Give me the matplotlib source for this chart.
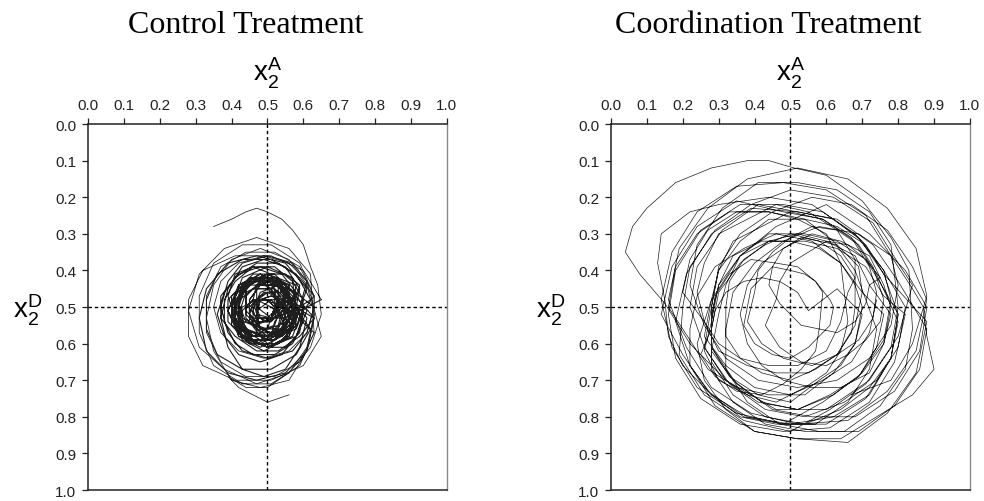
import matplotlib
matplotlib.use('Agg')
from matplotlib import pyplot as plt

plt.rcParams['font.family'] = 'Liberation Sans'
plt.rcParams['mathtext.fontset'] = 'custom'
plt.rcParams['mathtext.rm'] = 'Liberation Sans'

titles = ['Control Treatment', 'Coordination Treatment']
tick_vals = [0.0, 0.1, 0.2, 0.3, 0.4, 0.5, 0.6, 0.7, 0.8, 0.9, 1.0]
tick_labels = ['0.0', '0.1', '0.2', '0.3', '0.4', '0.5', '0.6', '0.7', '0.8', '0.9', '1.0']

# control treatment path (x2^A, x2^D), in three parts
ctrl_start_x = [
    0.35, 0.40, 0.44, 0.47, 0.50, 0.54, 0.57, 0.60, 0.62, 0.64,
    0.65, 0.62, 0.56, 0.47, 0.38, 0.31, 0.28, 0.31, 0.38, 0.47, 0.56, 0.62,
    0.63, 0.59, 0.52, 0.44, 0.37, 0.33, 0.33, 0.37, 0.44, 0.52, 0.59, 0.63,
    0.63, 0.61, 0.56, 0.49, 0.42, 0.37, 0.35, 0.37, 0.42, 0.49, 0.56, 0.61,
    0.65, 0.60, 0.51, 0.41, 0.32, 0.28, 0.28, 0.32, 0.41, 0.51, 0.60, 0.65,
]
ctrl_start_y = [
    0.28, 0.26, 0.24, 0.23, 0.24, 0.26, 0.29, 0.33, 0.39, 0.44,
    0.52, 0.61, 0.68, 0.71, 0.67, 0.61, 0.51, 0.41, 0.34, 0.31, 0.34, 0.41,
    0.57, 0.65, 0.69, 0.69, 0.65, 0.57, 0.47, 0.39, 0.35, 0.35, 0.39, 0.47,
    0.50, 0.57, 0.62, 0.64, 0.62, 0.57, 0.50, 0.43, 0.38, 0.36, 0.38, 0.43,
    0.58, 0.66, 0.70, 0.70, 0.66, 0.58, 0.48, 0.40, 0.36, 0.36, 0.40, 0.48,
]
ctrl_core_x = [
    0.59, 0.56, 0.50, 0.44, 0.41, 0.44, 0.50, 0.56,
    0.56, 0.52, 0.46, 0.42, 0.42, 0.46, 0.52, 0.56,
    0.53, 0.51, 0.46, 0.41, 0.39, 0.41, 0.46, 0.51,
    0.53, 0.52, 0.50, 0.48, 0.47, 0.48, 0.50, 0.52,
    0.57, 0.52, 0.46, 0.41, 0.41, 0.46, 0.52, 0.57,
    0.56, 0.54, 0.48, 0.42, 0.40, 0.42, 0.48, 0.54,
    0.60, 0.57, 0.52, 0.46, 0.41, 0.38, 0.38, 0.41, 0.46, 0.52, 0.57, 0.60,
    0.59, 0.55, 0.51, 0.47, 0.47, 0.51, 0.55, 0.59,
    0.58, 0.56, 0.50, 0.44, 0.42, 0.44, 0.50, 0.56,
    0.58, 0.53, 0.45, 0.40, 0.40, 0.45, 0.53, 0.58,
    0.55, 0.54, 0.51, 0.48, 0.47, 0.48, 0.51, 0.54,
    0.55, 0.51, 0.45, 0.41, 0.41, 0.45, 0.51, 0.55,
    0.53, 0.51, 0.47, 0.45, 0.45, 0.47, 0.51, 0.53,
    0.60, 0.58, 0.54, 0.48, 0.42, 0.38, 0.36, 0.38, 0.42, 0.48, 0.54, 0.58,
    0.52, 0.51, 0.47, 0.43, 0.42, 0.43, 0.47, 0.51,
    0.57, 0.52, 0.46, 0.41, 0.41, 0.46, 0.52, 0.57,
    0.60, 0.57, 0.50, 0.43, 0.40, 0.43, 0.50, 0.57,
    0.58, 0.54, 0.48, 0.45, 0.45, 0.48, 0.54, 0.58,
    0.57, 0.55, 0.49, 0.43, 0.41, 0.43, 0.49, 0.55,
    0.63, 0.61, 0.57, 0.50, 0.43, 0.39, 0.37, 0.39, 0.43, 0.50, 0.57, 0.61,
    0.59, 0.55, 0.51, 0.47, 0.47, 0.51, 0.55, 0.59,
    0.57, 0.54, 0.48, 0.42, 0.39, 0.42, 0.48, 0.54,
    0.52, 0.50, 0.46, 0.44, 0.44, 0.46, 0.50, 0.52,
    0.52, 0.50, 0.46, 0.42, 0.40, 0.42, 0.46, 0.50,
    0.57, 0.52, 0.46, 0.41, 0.41, 0.46, 0.52, 0.57,
    0.63, 0.59, 0.53, 0.47, 0.41, 0.37, 0.37, 0.41, 0.47, 0.53, 0.59, 0.63,
    0.60, 0.58, 0.53, 0.48, 0.46, 0.48, 0.53, 0.58,
    0.57, 0.52, 0.44, 0.39, 0.39, 0.44, 0.52, 0.57,
    0.61, 0.59, 0.55, 0.49, 0.43, 0.39, 0.37, 0.39, 0.43, 0.49, 0.55, 0.59,
    0.58, 0.56, 0.50, 0.44, 0.42, 0.44, 0.50, 0.56,
    0.54, 0.51, 0.47, 0.44, 0.44, 0.47, 0.51, 0.54,
    0.58, 0.55, 0.49, 0.43, 0.40, 0.43, 0.49, 0.55,
    0.55, 0.54, 0.51, 0.48, 0.47, 0.48, 0.51, 0.54,
    0.63, 0.61, 0.55, 0.47, 0.39, 0.33, 0.31, 0.33, 0.39, 0.47, 0.55, 0.61,
    0.58, 0.54, 0.48, 0.44, 0.44, 0.48, 0.54, 0.58,
    0.61, 0.58, 0.50, 0.42, 0.39, 0.42, 0.50, 0.58,
    0.56, 0.52, 0.46, 0.42, 0.42, 0.46, 0.52, 0.56,
    0.62, 0.58, 0.51, 0.43, 0.36, 0.33, 0.33, 0.36, 0.43, 0.51, 0.58, 0.62,
    0.59, 0.56, 0.50, 0.44, 0.41, 0.44, 0.50, 0.56,
    0.52, 0.50, 0.46, 0.44, 0.44, 0.46, 0.50, 0.52,
    0.55, 0.51, 0.45, 0.41, 0.41, 0.45, 0.51, 0.55,
    0.53, 0.51, 0.47, 0.43, 0.41, 0.43, 0.47, 0.51,
    0.58, 0.54, 0.50, 0.46, 0.46, 0.50, 0.54, 0.58,
    0.58, 0.56, 0.50, 0.44, 0.42, 0.44, 0.50, 0.56,
    0.53, 0.50, 0.46, 0.43, 0.43, 0.46, 0.50, 0.53,
    0.56, 0.55, 0.51, 0.47, 0.46, 0.47, 0.51, 0.55,
    0.58, 0.53, 0.47, 0.42, 0.42, 0.47, 0.53, 0.58,
    0.53, 0.52, 0.49, 0.46, 0.45, 0.46, 0.49, 0.52,
    0.57, 0.54, 0.48, 0.45, 0.45, 0.48, 0.54, 0.57,
    0.55, 0.53, 0.48, 0.43, 0.41, 0.43, 0.48, 0.53,
    0.53, 0.51, 0.49, 0.47, 0.47, 0.49, 0.51, 0.53,
]
ctrl_core_y = [
    0.51, 0.58, 0.61, 0.58, 0.51, 0.44, 0.41, 0.44,
    0.53, 0.58, 0.58, 0.53, 0.47, 0.42, 0.42, 0.47,
    0.47, 0.53, 0.55, 0.53, 0.47, 0.41, 0.39, 0.41,
    0.50, 0.53, 0.54, 0.53, 0.50, 0.47, 0.46, 0.47,
    0.54, 0.59, 0.59, 0.54, 0.48, 0.43, 0.43, 0.48,
    0.51, 0.58, 0.61, 0.58, 0.51, 0.44, 0.41, 0.44,
    0.54, 0.60, 0.63, 0.63, 0.60, 0.54, 0.48, 0.43, 0.39, 0.39, 0.43, 0.48,
    0.57, 0.61, 0.61, 0.57, 0.51, 0.48, 0.48, 0.51,
    0.52, 0.58, 0.61, 0.58, 0.52, 0.46, 0.43, 0.46,
    0.55, 0.60, 0.60, 0.55, 0.47, 0.42, 0.42, 0.47,
    0.52, 0.56, 0.57, 0.56, 0.52, 0.48, 0.47, 0.48,
    0.53, 0.58, 0.58, 0.53, 0.47, 0.42, 0.42, 0.47,
    0.52, 0.54, 0.54, 0.52, 0.50, 0.48, 0.48, 0.50,
    0.52, 0.58, 0.63, 0.65, 0.63, 0.58, 0.52, 0.46, 0.41, 0.39, 0.41, 0.46,
    0.54, 0.58, 0.60, 0.58, 0.54, 0.50, 0.48, 0.50,
    0.55, 0.59, 0.59, 0.55, 0.49, 0.45, 0.45, 0.49,
    0.50, 0.58, 0.61, 0.58, 0.50, 0.42, 0.39, 0.42,
    0.54, 0.58, 0.58, 0.54, 0.48, 0.44, 0.44, 0.48,
    0.50, 0.56, 0.58, 0.56, 0.50, 0.44, 0.42, 0.44,
    0.50, 0.57, 0.62, 0.64, 0.62, 0.57, 0.50, 0.43, 0.38, 0.36, 0.38, 0.43,
    0.50, 0.53, 0.53, 0.50, 0.44, 0.41, 0.41, 0.44,
    0.51, 0.57, 0.60, 0.57, 0.51, 0.45, 0.42, 0.45,
    0.51, 0.53, 0.53, 0.51, 0.47, 0.45, 0.45, 0.47,
    0.50, 0.56, 0.58, 0.56, 0.50, 0.44, 0.42, 0.44,
    0.54, 0.59, 0.59, 0.54, 0.46, 0.41, 0.41, 0.46,
    0.53, 0.58, 0.62, 0.62, 0.58, 0.53, 0.47, 0.42, 0.38, 0.38, 0.42, 0.47,
    0.51, 0.56, 0.58, 0.56, 0.51, 0.46, 0.44, 0.46,
    0.54, 0.59, 0.59, 0.54, 0.48, 0.43, 0.43, 0.48,
    0.53, 0.61, 0.67, 0.69, 0.67, 0.61, 0.53, 0.45, 0.39, 0.37, 0.39, 0.45,
    0.50, 0.56, 0.59, 0.56, 0.50, 0.44, 0.41, 0.44,
    0.49, 0.53, 0.53, 0.49, 0.45, 0.42, 0.42, 0.45,
    0.52, 0.59, 0.62, 0.59, 0.52, 0.45, 0.42, 0.45,
    0.52, 0.56, 0.57, 0.56, 0.52, 0.48, 0.47, 0.48,
    0.53, 0.62, 0.68, 0.70, 0.68, 0.62, 0.53, 0.45, 0.38, 0.36, 0.38, 0.45,
    0.53, 0.57, 0.57, 0.53, 0.47, 0.43, 0.43, 0.47,
    0.51, 0.58, 0.61, 0.58, 0.51, 0.44, 0.41, 0.44,
    0.54, 0.59, 0.59, 0.54, 0.48, 0.43, 0.43, 0.48,
    0.56, 0.63, 0.67, 0.67, 0.63, 0.56, 0.48, 0.41, 0.37, 0.37, 0.41, 0.48,
    0.50, 0.56, 0.58, 0.56, 0.50, 0.44, 0.42, 0.44,
    0.52, 0.54, 0.54, 0.52, 0.50, 0.48, 0.48, 0.50,
    0.55, 0.60, 0.60, 0.55, 0.49, 0.44, 0.44, 0.49,
    0.49, 0.53, 0.55, 0.53, 0.49, 0.45, 0.43, 0.45,
    0.55, 0.58, 0.58, 0.55, 0.49, 0.46, 0.46, 0.49,
    0.49, 0.54, 0.56, 0.54, 0.49, 0.44, 0.42, 0.44,
    0.55, 0.58, 0.58, 0.55, 0.51, 0.48, 0.48, 0.51,
    0.48, 0.52, 0.53, 0.52, 0.48, 0.44, 0.43, 0.44,
    0.55, 0.60, 0.60, 0.55, 0.47, 0.42, 0.42, 0.47,
    0.52, 0.55, 0.56, 0.55, 0.52, 0.49, 0.48, 0.49,
    0.52, 0.56, 0.56, 0.52, 0.48, 0.44, 0.44, 0.48,
    0.50, 0.56, 0.59, 0.56, 0.50, 0.44, 0.41, 0.44,
    0.52, 0.54, 0.54, 0.52, 0.48, 0.46, 0.46, 0.48,
]
ctrl_end_x = [
    0.63, 0.59, 0.51, 0.43, 0.35, 0.31, 0.31, 0.35, 0.43, 0.51, 0.59, 0.63,
    0.63, 0.61, 0.56, 0.48, 0.40, 0.35, 0.33, 0.35, 0.40, 0.48, 0.56, 0.61,
    0.63, 0.61, 0.56, 0.50, 0.44, 0.39, 0.42, 0.46, 0.50, 0.53, 0.56,
]
ctrl_end_y = [
    0.57, 0.66, 0.71, 0.71, 0.66, 0.57, 0.47, 0.38, 0.33, 0.33, 0.38, 0.47,
    0.53, 0.62, 0.70, 0.72, 0.70, 0.62, 0.53, 0.44, 0.37, 0.34, 0.37, 0.44,
    0.52, 0.61, 0.68, 0.72, 0.72, 0.69, 0.72, 0.74, 0.76, 0.75, 0.74,
]

# coordination treatment path
coord_x = [
    0.74, 0.72, 0.67, 0.59, 0.50, 0.40, 0.32, 0.26, 0.28, 0.30, 0.34, 0.42, 0.50, 0.59, 0.67, 0.72,
    0.74, 0.73, 0.69, 0.63, 0.56, 0.48, 0.42, 0.38, 0.40, 0.41, 0.45, 0.50, 0.56, 0.63, 0.69, 0.73,
    0.76, 0.75, 0.71, 0.66, 0.60, 0.53, 0.47, 0.43, 0.46, 0.47, 0.50, 0.55, 0.60, 0.66, 0.71, 0.75,
    0.72, 0.71, 0.68, 0.63, 0.58, 0.53, 0.50, 0.47, 0.44, 0.45, 0.48, 0.53, 0.58, 0.63, 0.66, 0.69,
    0.70, 0.68, 0.63, 0.55, 0.46, 0.38, 0.30, 0.26, 0.24, 0.26, 0.30, 0.38, 0.46, 0.55, 0.63, 0.68,
    0.68, 0.67, 0.63, 0.57, 0.50, 0.42, 0.36, 0.32, 0.32, 0.33, 0.37, 0.43, 0.50, 0.58, 0.64, 0.68,
    0.66, 0.64, 0.60, 0.52, 0.44, 0.36, 0.30, 0.26, 0.20, 0.22, 0.27, 0.35, 0.44, 0.52, 0.60, 0.64,
    0.66, 0.64, 0.60, 0.54, 0.46, 0.38, 0.30, 0.26, 0.28, 0.29, 0.33, 0.39, 0.46, 0.52, 0.57, 0.61,
    0.62, 0.61, 0.58, 0.55, 0.50, 0.45, 0.40, 0.37, 0.38, 0.39, 0.42, 0.45, 0.50, 0.54, 0.57, 0.59,
    0.58, 0.57, 0.53, 0.48, 0.42, 0.35, 0.29, 0.25, 0.28, 0.29, 0.32, 0.37, 0.42, 0.47, 0.52, 0.55, 0.63,
    0.70, 0.68, 0.64, 0.58, 0.50, 0.41, 0.33, 0.28, 0.28, 0.30, 0.34, 0.42, 0.50, 0.58, 0.64, 0.68,
    0.70, 0.68, 0.62, 0.54, 0.44, 0.35, 0.27, 0.22, 0.16, 0.18, 0.24, 0.33, 0.44, 0.54, 0.62, 0.68,
    0.74, 0.72, 0.66, 0.57, 0.46, 0.36, 0.28, 0.22, 0.22, 0.24, 0.29, 0.37, 0.46, 0.56, 0.64, 0.70,
    0.76, 0.74, 0.69, 0.61, 0.52, 0.42, 0.34, 0.28, 0.30, 0.32, 0.36, 0.44, 0.52, 0.60, 0.68, 0.72,
    0.78, 0.76, 0.72, 0.64, 0.56, 0.48, 0.42, 0.38, 0.36, 0.38, 0.42, 0.48, 0.56, 0.64, 0.72, 0.76,
    0.78, 0.76, 0.70, 0.62, 0.52, 0.41, 0.32, 0.26, 0.22, 0.24, 0.31, 0.41, 0.52, 0.62, 0.70, 0.76,
    0.82, 0.80, 0.74, 0.65, 0.54, 0.43, 0.33, 0.26, 0.28, 0.30, 0.36, 0.44, 0.54, 0.63, 0.71, 0.76,
    0.80, 0.78, 0.71, 0.60, 0.48, 0.37, 0.27, 0.20, 0.14, 0.17, 0.24, 0.35, 0.48, 0.59, 0.68, 0.74,
    0.80, 0.78, 0.72, 0.64, 0.54, 0.43, 0.34, 0.28, 0.28, 0.30, 0.36, 0.44, 0.54, 0.63, 0.71, 0.76,
    0.80, 0.78, 0.72, 0.62, 0.50, 0.38, 0.28, 0.20, 0.16, 0.15, 0.13, 0.14, 0.22, 0.30, 0.44, 0.56, 0.68, 0.76,
    0.78, 0.76, 0.69, 0.59, 0.48, 0.35, 0.24, 0.17, 0.14, 0.17, 0.24, 0.35, 0.48, 0.60, 0.71, 0.78,
    0.80, 0.78, 0.72, 0.63, 0.52, 0.41, 0.32, 0.26, 0.22, 0.24, 0.31, 0.41, 0.52, 0.63, 0.72, 0.78,
    0.80, 0.78, 0.71, 0.61, 0.50, 0.37, 0.26, 0.19, 0.20, 0.22, 0.29, 0.39, 0.50, 0.62, 0.73, 0.80,
    0.84, 0.80, 0.72, 0.60, 0.46, 0.32, 0.22, 0.15, 0.08, 0.04, 0.06, 0.10, 0.18, 0.28, 0.38, 0.44, 0.51, 0.60, 0.70, 0.78, 0.83,
    0.84, 0.82, 0.75, 0.65, 0.54, 0.43, 0.34, 0.28, 0.28, 0.30, 0.36, 0.44, 0.54, 0.63, 0.71, 0.76,
    0.82, 0.79, 0.72, 0.61, 0.48, 0.36, 0.25, 0.18, 0.16, 0.18, 0.25, 0.36, 0.48, 0.59, 0.69, 0.76,
    0.88, 0.85, 0.77, 0.66, 0.52, 0.40, 0.29, 0.22, 0.18, 0.21, 0.28, 0.39, 0.52, 0.63, 0.73, 0.80,
    0.88, 0.86, 0.79, 0.69, 0.58, 0.47, 0.38, 0.32, 0.32, 0.34, 0.40, 0.48, 0.58, 0.69, 0.78, 0.84,
    0.87, 0.88, 0.90, 0.84, 0.74, 0.64, 0.52, 0.40, 0.32, 0.26, 0.24, 0.28, 0.36, 0.46, 0.60, 0.72, 0.82,
    0.88, 0.86, 0.79, 0.68, 0.56, 0.45, 0.35, 0.28, 0.28, 0.30, 0.36, 0.45, 0.56, 0.67, 0.77, 0.84,
    0.88, 0.85, 0.77, 0.66, 0.52, 0.39, 0.28, 0.21, 0.16, 0.19, 0.27, 0.38, 0.52, 0.66, 0.77, 0.85,
    0.88, 0.84, 0.78, 0.67,
]
coord_y = [
    0.48, 0.57, 0.65, 0.70, 0.74, 0.72, 0.66, 0.58, 0.48, 0.40, 0.32, 0.28, 0.24, 0.26, 0.31, 0.39,
    0.46, 0.53, 0.59, 0.63, 0.66, 0.64, 0.60, 0.54, 0.46, 0.40, 0.35, 0.31, 0.28, 0.29, 0.33, 0.39,
    0.48, 0.54, 0.59, 0.63, 0.66, 0.65, 0.61, 0.55, 0.48, 0.43, 0.38, 0.35, 0.32, 0.33, 0.37, 0.42,
    0.44, 0.49, 0.54, 0.57, 0.56, 0.55, 0.52, 0.49, 0.44, 0.39, 0.34, 0.31, 0.32, 0.33, 0.36, 0.39,
    0.46, 0.55, 0.63, 0.68, 0.68, 0.66, 0.62, 0.54, 0.46, 0.38, 0.30, 0.26, 0.22, 0.24, 0.29, 0.37,
    0.50, 0.57, 0.63, 0.67, 0.70, 0.68, 0.64, 0.58, 0.50, 0.43, 0.37, 0.33, 0.30, 0.32, 0.36, 0.42,
    0.46, 0.54, 0.62, 0.66, 0.66, 0.64, 0.60, 0.54, 0.46, 0.37, 0.29, 0.24, 0.24, 0.26, 0.30, 0.38,
    0.54, 0.62, 0.68, 0.72, 0.76, 0.74, 0.70, 0.62, 0.54, 0.47, 0.41, 0.37, 0.38, 0.39, 0.43, 0.48,
    0.50, 0.55, 0.58, 0.61, 0.64, 0.63, 0.60, 0.55, 0.50, 0.45, 0.42, 0.39, 0.40, 0.41, 0.43, 0.46,
    0.56, 0.62, 0.67, 0.71, 0.74, 0.73, 0.69, 0.63, 0.56, 0.51, 0.46, 0.43, 0.42, 0.43, 0.46, 0.51, 0.45,
    0.52, 0.60, 0.66, 0.70, 0.76, 0.74, 0.69, 0.61, 0.52, 0.44, 0.36, 0.32, 0.32, 0.34, 0.38, 0.44,
    0.50, 0.60, 0.68, 0.74, 0.74, 0.72, 0.67, 0.59, 0.50, 0.39, 0.30, 0.24, 0.24, 0.26, 0.32, 0.40,
    0.56, 0.67, 0.76, 0.82, 0.82, 0.80, 0.74, 0.66, 0.56, 0.47, 0.39, 0.34, 0.30, 0.32, 0.38, 0.46,
    0.52, 0.61, 0.69, 0.74, 0.78, 0.76, 0.70, 0.62, 0.52, 0.44, 0.36, 0.32, 0.30, 0.32, 0.36, 0.44,
    0.52, 0.60, 0.68, 0.72, 0.72, 0.70, 0.66, 0.60, 0.52, 0.44, 0.38, 0.34, 0.30, 0.32, 0.36, 0.44,
    0.50, 0.60, 0.68, 0.74, 0.78, 0.76, 0.70, 0.61, 0.50, 0.39, 0.29, 0.22, 0.24, 0.26, 0.32, 0.40,
    0.50, 0.61, 0.70, 0.76, 0.80, 0.78, 0.71, 0.61, 0.50, 0.40, 0.32, 0.26, 0.26, 0.28, 0.33, 0.41,
    0.52, 0.64, 0.75, 0.82, 0.82, 0.80, 0.73, 0.63, 0.52, 0.39, 0.28, 0.21, 0.24, 0.26, 0.32, 0.41,
    0.54, 0.64, 0.72, 0.78, 0.82, 0.80, 0.74, 0.65, 0.54, 0.44, 0.36, 0.30, 0.30, 0.32, 0.37, 0.45,
    0.52, 0.64, 0.74, 0.80, 0.82, 0.80, 0.74, 0.66, 0.58, 0.48, 0.38, 0.30, 0.24, 0.22, 0.20, 0.22, 0.30, 0.40,
    0.48, 0.59, 0.69, 0.76, 0.82, 0.79, 0.72, 0.61, 0.48, 0.35, 0.24, 0.17, 0.16, 0.18, 0.25, 0.36,
    0.44, 0.55, 0.64, 0.70, 0.72, 0.70, 0.64, 0.55, 0.44, 0.33, 0.23, 0.16, 0.16, 0.18, 0.24, 0.33,
    0.50, 0.61, 0.71, 0.78, 0.84, 0.81, 0.74, 0.63, 0.50, 0.39, 0.29, 0.22, 0.18, 0.20, 0.27, 0.38,
    0.44, 0.58, 0.70, 0.78, 0.78, 0.70, 0.60, 0.49, 0.41, 0.35, 0.28, 0.23, 0.16, 0.12, 0.10, 0.10, 0.12, 0.14, 0.21, 0.31, 0.40,
    0.56, 0.67, 0.77, 0.84, 0.84, 0.82, 0.76, 0.67, 0.56, 0.46, 0.38, 0.32, 0.32, 0.34, 0.39, 0.47,
    0.52, 0.65, 0.76, 0.83, 0.84, 0.82, 0.75, 0.64, 0.52, 0.40, 0.29, 0.22, 0.22, 0.24, 0.31, 0.41,
    0.54, 0.68, 0.79, 0.87, 0.86, 0.84, 0.77, 0.66, 0.54, 0.41, 0.30, 0.23, 0.24, 0.26, 0.33, 0.43,
    0.56, 0.67, 0.77, 0.84, 0.84, 0.82, 0.76, 0.67, 0.56, 0.46, 0.38, 0.32, 0.28, 0.30, 0.36, 0.45,
    0.50, 0.58, 0.67, 0.74, 0.80, 0.86, 0.86, 0.84, 0.78, 0.70, 0.60, 0.48, 0.36, 0.28, 0.22, 0.30, 0.40,
    0.50, 0.62, 0.73, 0.80, 0.80, 0.78, 0.71, 0.61, 0.50, 0.39, 0.30, 0.24, 0.20, 0.22, 0.29, 0.39,
    0.48, 0.62, 0.73, 0.81, 0.82, 0.79, 0.72, 0.61, 0.48, 0.34, 0.23, 0.15, 0.12, 0.15, 0.23, 0.34,
    0.47, 0.60, 0.70, 0.74,
]

fig = plt.figure(figsize=(9.84, 5.02), dpi=100)
ax1 = fig.add_axes([0.0894, 0.0219, 0.3648, 0.729])
ax2 = fig.add_axes([0.6209, 0.0219, 0.3648, 0.729])

line_c = '#1e1e1e'
# control: the dense core of the path reads heavier than the outer loops
ax1.plot(ctrl_start_x, ctrl_start_y, color=line_c, lw=0.55)
ax1.plot(ctrl_start_x[-1:] + ctrl_core_x + ctrl_end_x[:1],
         ctrl_start_y[-1:] + ctrl_core_y + ctrl_end_y[:1], color=line_c, lw=0.8)
ax1.plot(ctrl_end_x, ctrl_end_y, color=line_c, lw=0.55)
ax2.plot(coord_x, coord_y, color=line_c, lw=0.5)

for ax, title in zip([ax1, ax2], titles):
    ax.axvline(0.5, color='black', lw=1.0, ls=(0, (2.5, 2)))
    ax.axhline(0.5, color='black', lw=1.0, ls=(0, (2.5, 2)))
    ax.set_xlim(0, 1)
    ax.set_ylim(1, 0)
    ax.xaxis.tick_top()
    ax.set_xticks(tick_vals)
    ax.set_xticklabels(tick_labels)
    ax.set_yticks(tick_vals)
    ax.set_yticklabels(tick_labels)
    ax.tick_params(direction='out', length=4.5, width=0.9, labelsize=11, pad=4, colors='#222222')
    for sp in ax.spines.values():
        sp.set_linewidth(1.1)
        sp.set_color('#222222')
    ax.spines['right'].set_color('#8a8a8a')
    ax.spines['right'].set_linewidth(1.0)
    # titles sit a little left of the panel centre in the original
    ax.text(0.439, 1.271, title, transform=ax.transAxes, ha='center', va='center',
            fontsize=23, family='Liberation Serif')
    ax.text(0.5, 1.14, r'$\mathregular{x_2^A}$', transform=ax.transAxes,
            ha='center', va='center', fontsize=20)
    ax.text(-0.167, 0.495, r'$\mathregular{x_2^D}$', transform=ax.transAxes,
            ha='center', va='center', fontsize=20)

fig.savefig('out.png', dpi=100)
